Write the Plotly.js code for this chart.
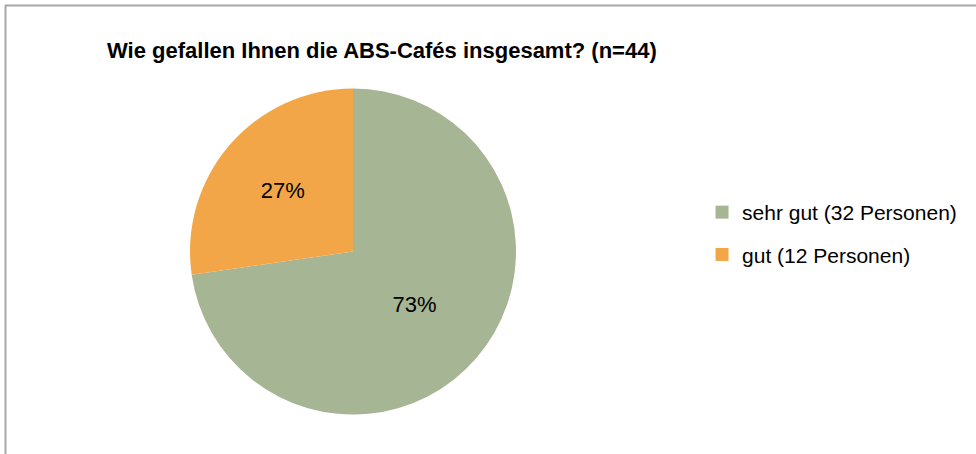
<!DOCTYPE html>
<html>
<head>
<meta charset="utf-8">
<script src="https://cdn.plot.ly/plotly-3.0.1.min.js"></script>
<style>html,body{margin:0;padding:0;background:#fff;}#chart{width:976px;height:454px;}</style>
</head>
<body>
<div id="chart"></div>
<script>
const categories = ['sehr gut (32 Personen)', 'gut (12 Personen)'];
const personCounts = [32, 12];
const sliceColors = ['#A6B593', '#F3A647'];
const chartTitle = 'Wie gefallen Ihnen die ABS-Cafés insgesamt? (n=44)';

const W = 976, H = 454;
const cx = 353, cy = 251.5, r = 163;

const pie = {
  type: 'pie',
  labels: categories,
  values: personCounts,
  marker: { colors: sliceColors, line: { width: 0 } },
  sort: false,
  direction: 'clockwise',
  rotation: 0,
  texttemplate: '%{percent:.0%}',
  textposition: 'inside',
  insidetextorientation: 'horizontal',
  textfont: { family: 'Liberation Sans, Arial, sans-serif', size: 22, color: '#000' },
  hoverinfo: 'none',
  showlegend: false,
  domain: { x: [(cx - r) / W, (cx + r) / W], y: [(H - cy - r) / H, (H - cy + r) / H] }
};

const legendTraces = categories.map((c, i) => ({
  type: 'scatter', x: [null], y: [null], mode: 'markers', name: c,
  legendgroup: 'g' + i, showlegend: true, hoverinfo: 'none',
  marker: { symbol: 'square', size: 13, color: sliceColors[i] }
}));

const layout = {
  width: W, height: H,
  margin: { l: 0, r: 0, t: 0, b: 0 },
  paper_bgcolor: '#fff', plot_bgcolor: '#fff',
  xaxis: { visible: false }, yaxis: { visible: false },
  title: {
    text: '<b>' + chartTitle + '</b>',
    font: { family: 'Liberation Sans, Arial, sans-serif', size: 22, color: '#000' },
    xref: 'container', yref: 'container', x: 107 / W, xanchor: 'left', y: 1 - 50 / H, yanchor: 'middle'
  },
  legend: {
    x: 0.7193, xanchor: 'left', y: 1 - 192 / H, yanchor: 'top',
    font: { family: 'Liberation Sans, Arial, sans-serif', size: 21, color: '#000' },
    tracegroupgap: 12, bgcolor: 'rgba(0,0,0,0)'
  },
  shapes: [
    { type: 'line', xref: 'paper', yref: 'paper', x0: 5 / W, x1: 1, y0: 1 - 5.5 / H, y1: 1 - 5.5 / H, line: { color: '#a8a8a8', width: 2 } },
    { type: 'line', xref: 'paper', yref: 'paper', x0: 5.5 / W, x1: 5.5 / W, y0: 1 - 5 / H, y1: 0, line: { color: '#a8a8a8', width: 2 } }
  ]
};

Plotly.newPlot('chart', [pie].concat(legendTraces), layout, { displayModeBar: false, staticPlot: true });
</script>
</body>
</html>
